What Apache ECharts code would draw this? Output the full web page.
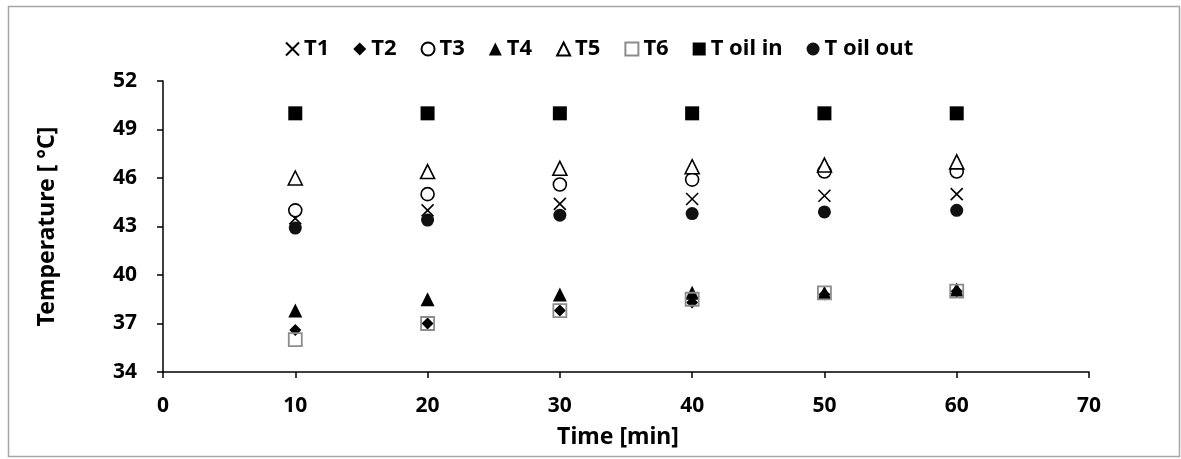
<!DOCTYPE html>
<html><head><meta charset="utf-8">
<script src="https://cdn.jsdelivr.net/npm/echarts@6/dist/echarts.min.js"></script>
<style>html,body{margin:0;padding:0;background:#fff}#c{width:1181px;height:459px}</style>
</head><body><div id="c"></div>
<script>
const times = [10, 20, 30, 40, 50, 60];
const T1 = [43.5, 44.0, 44.4, 44.7, 44.9, 45.0];
const T2 = [36.6, 37.0, 37.8, 38.3, 38.8, 39.0];
const T3 = [44.0, 45.0, 45.6, 45.9, 46.4, 46.4];
const T4 = [37.8, 38.5, 38.8, 38.9, 38.9, 39.1];
const T5 = [46.0, 46.4, 46.6, 46.7, 46.8, 47.0];
const T6 = [36.0, 37.0, 37.8, 38.5, 38.9, 39.0];
const ToilIn = [50, 50, 50, 50, 50, 50];
const ToilOut = [42.9, 43.4, 43.7, 43.8, 43.9, 44.0];
const yTicks = [34, 37, 40, 43, 46, 49, 52];
const xTicks = [0, 10, 20, 30, 40, 50, 60, 70];

const FONT = '"Noto Sans", "Open Sans", sans-serif';
const pair = arr => times.map((t, i) => [t, arr[i]]);
const xPath = 'path://M0,0L10,10M10,0L0,10';

function s(name, data, symbol, size, style) {
  return { name, type: 'scatter', data: pair(data), symbol, symbolSize: size,
    itemStyle: Object.assign({ opacity: 1 }, style) };
}

const series = [
  s('T1', T1, xPath, 12, { color: 'rgba(0,0,0,0)', borderColor: '#000', borderWidth: 1.6 }),
  s('T2', T2, 'diamond', 12, { color: '#000' }),
  s('T3', T3, 'circle', 13, { color: '#fff', borderColor: '#000', borderWidth: 1.6 }),
  s('T4', T4, 'triangle', 14, { color: '#000' }),
  s('T5', T5, 'triangle', 14, { color: '#fff', borderColor: '#000', borderWidth: 1.6 }),
  s('T6', T6, 'rect', 13, { color: 'rgba(0,0,0,0)', borderColor: '#8c8c8c', borderWidth: 1.8 }),
  s('T oil in', ToilIn, 'rect', 14, { color: '#000' }),
  s('T oil out', ToilOut, 'circle', 13, { color: '#111' })
];

const chart = echarts.init(document.getElementById('c'), null, { renderer: 'canvas' });
chart.setOption({
  backgroundColor: '#fff',
  animation: false,
  graphic: [{
    type: 'rect', shape: { x: 8.5, y: 6.5, width: 1171, height: 450 },
    style: { fill: 'none', stroke: '#a6a6a6', lineWidth: 1.5 }, silent: true
  }],
  legend: {
    top: 33, left: 280, itemGap: 24, itemWidth: 13, itemHeight: 13,
    textStyle: { fontFamily: FONT, fontWeight: 'bold', fontSize: 22, color: '#000' },
    data: series.map(x => x.name)
  },
  grid: { left: 163, right: 92, top: 81, bottom: 87 },
  xAxis: {
    type: 'value', min: 0, max: 70, interval: 10,
    name: 'Time [min]', nameLocation: 'middle', nameGap: 54,
    nameTextStyle: { fontFamily: FONT, fontWeight: 'bold', fontSize: 23, color: '#000', padding: [0, 16, 0, 0] },
    axisLine: { show: true, lineStyle: { color: '#000', width: 1.5 } },
    axisTick: { show: true, length: 6, lineStyle: { color: '#000', width: 1.5 } },
    axisLabel: { fontFamily: FONT, fontWeight: 'bold', fontSize: 21, color: '#000', margin: 24,
      formatter: v => xTicks.includes(v) ? String(v) : '' },
    splitLine: { show: false }
  },
  yAxis: {
    type: 'value', min: 34, max: 52, interval: 3,
    name: 'Temperature [ °C]', nameLocation: 'middle', nameGap: 104,
    nameTextStyle: { fontFamily: FONT, fontWeight: 'bold', fontSize: 23, color: '#000' },
    axisLine: { show: true, lineStyle: { color: '#000', width: 1.5 } },
    axisTick: { show: true, length: 6, lineStyle: { color: '#000', width: 1.5 } },
    axisLabel: { fontFamily: FONT, fontWeight: 'bold', fontSize: 21, color: '#000', margin: 26,
      formatter: v => yTicks.includes(v) ? String(v) : '' },
    splitLine: { show: false }
  },
  series
});
</script></body></html>
